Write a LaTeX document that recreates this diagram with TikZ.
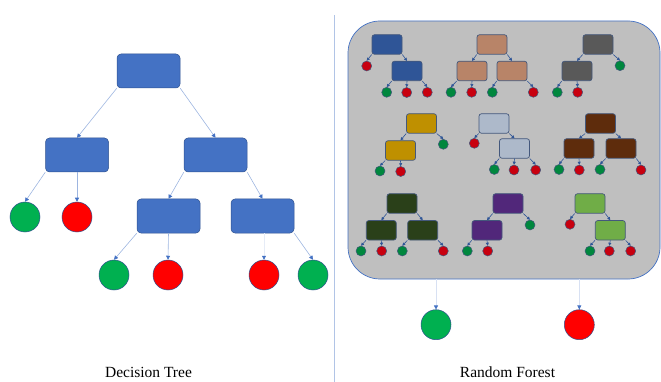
\documentclass[tikz,border=0pt]{standalone}
\usepackage{fontspec}
\setmainfont{Liberation Serif}
\usetikzlibrary{arrows.meta, positioning}
\definecolor{dtblue}{HTML}{4472C4}
\definecolor{dtline}{HTML}{2F528F}
\definecolor{dtedge}{HTML}{9DB5E0}
\definecolor{dtgreen}{HTML}{00B050}
\definecolor{dtred}{HTML}{FF0000}
\definecolor{rfgray}{HTML}{BFBFBF}
\definecolor{sline}{HTML}{44587C}
\definecolor{sgreen}{HTML}{00873E}
\definecolor{sred}{HTML}{C8000F}
\definecolor{tone}{HTML}{2F5597}
\definecolor{ttwo}{HTML}{B88468}
\definecolor{tthree}{HTML}{595959}
\definecolor{tfour}{HTML}{BF9000}
\definecolor{tfive}{HTML}{ADB9CA}
\definecolor{tsix}{HTML}{5E2C0C}
\definecolor{tseven}{HTML}{2A4019}
\definecolor{teight}{HTML}{51277A}
\definecolor{tnine}{HTML}{70AD47}

\begin{document}
\begin{tikzpicture}[x=1pt,y=-1pt,
    dtbox/.style={draw=dtline, line width=0.5pt, fill=dtblue, rounded corners=4pt,
      minimum width=63pt, minimum height=34pt, inner sep=0pt},
    dtleaf/.style={circle, draw=dtline, line width=0.5pt, minimum size=30pt, inner sep=0pt},
    dtarrow/.style={draw=dtedge, line width=0.6pt, -{Triangle[length=4pt,width=4pt,color=dtblue]}},
    sbox/.style={draw=sline, line width=0.7pt, rounded corners=2.5pt,
      minimum width=30pt, minimum height=19.5pt, inner sep=0pt},
    sg/.style={circle, draw=sline, line width=0.5pt, fill=sgreen, minimum size=10pt, inner sep=0pt},
    sr/.style={circle, draw=sline, line width=0.5pt, fill=sred, minimum size=10pt, inner sep=0pt},
    sarrow/.style={draw=tone, line width=0.6pt, -{Triangle[length=3pt,width=3pt]}},
    caption/.style={font=\fontsize{15.5}{18}\selectfont, anchor=base}]
  \useasboundingbox (0,0) rectangle (661,382);

  % decision tree
  \node[dtbox] (root) at (148.5,71) {};
  \node[dtbox] (n1) at (77,155) {};
  \node[dtbox] (n2) at (215.5,155) {};
  \node[dtleaf, fill=dtgreen] (lg1) at (25,217) {};
  \node[dtleaf, fill=dtred] (lr1) at (77,217) {};
  \node[dtbox] (n3) at (168.5,216) {};
  \node[dtbox] (n4) at (262.5,216) {};
  \node[dtleaf, fill=dtgreen] (lg2) at (114,275) {};
  \node[dtleaf, fill=dtred] (lr2) at (168,275) {};
  \node[dtleaf, fill=dtred] (lr3) at (264,275) {};
  \node[dtleaf, fill=dtgreen] (lg3) at (313,275) {};
  \foreach \p/\c in {root.south west/n1, root.south east/n2, n1.south west/lg1,
      n1.south/lr1, n2.south west/n3, n2.south east/n4, n3.south west/lg2,
      n3.south/lr2, n4.south east/lg3}
    \draw[dtarrow] (\p) -- (\c.north);
  \draw[dtarrow, draw=dtedge!25] (n4.south -| lr3) -- (lr3.north);

  % divider
  \draw[draw=dtedge!80, line width=0.7pt] (334.3,15) -- (334.3,382);

  % random forest
  \node[draw=dtblue, line width=0.7pt, fill=rfgray, rounded corners=32pt,
    minimum width=312pt, minimum height=258pt] (rf) at (504,150) {};

  % tree 1
  \node[sbox, fill=tone] (a1) at (387,44.5) {};
  \node[sr] (a1r) at (366.7,66) {};
  \node[sbox, fill=tone] (a2) at (407,71) {};
  \node[sg] (a2g) at (386.7,92.3) {};
  \node[sr] (a2r) at (406.7,92.5) {};
  \node[sr] (a2s) at (427.3,92.3) {};
  % tree 2
  \node[sbox, fill=ttwo] (b1) at (492,44.5) {};
  \node[sbox, fill=ttwo] (b2) at (472,71) {};
  \node[sbox, fill=ttwo] (b3) at (512,71) {};
  \node[sg] (b2g) at (451,92.3) {};
  \node[sr] (b2r) at (471.7,92.3) {};
  \node[sg] (b3g) at (492.3,92.3) {};
  \node[sr] (b3r) at (533.3,92.3) {};
  % tree 3
  \node[sbox, fill=tthree] (c1) at (598,44.5) {};
  \node[sg] (c1g) at (620,65.7) {};
  \node[sbox, fill=tthree] (c2) at (577,71) {};
  \node[sg] (c2g) at (557.3,92.3) {};
  \node[sr] (c2r) at (577.7,92.3) {};
  % tree 4
  \node[sbox, fill=tfour] (d1) at (421.5,123.5) {};
  \node[sg] (d1g) at (443.3,144.3) {};
  \node[sbox, fill=tfour] (d2) at (400.5,150.5) {};
  \node[sg] (d2g) at (380,171) {};
  \node[sr] (d2r) at (400.7,171.5) {};
  % tree 5
  \node[sbox, fill=tfive] (e1) at (494,123.5) {};
  \node[sr] (e1r) at (474.3,143.3) {};
  \node[sbox, fill=tfive] (e2) at (514.5,148.5) {};
  \node[sg] (e2g) at (494.3,169.5) {};
  \node[sr] (e2r) at (514,170) {};
  \node[sr] (e2s) at (535.7,170) {};
  % tree 6
  \node[sbox, fill=tsix] (f1) at (600.5,123.5) {};
  \node[sbox, fill=tsix] (f2) at (579,148.5) {};
  \node[sbox, fill=tsix] (f3) at (621,148.5) {};
  \node[sg] (f2g) at (559,169.5) {};
  \node[sr] (f2r) at (579.3,170) {};
  \node[sg] (f3g) at (600,169.5) {};
  \node[sr] (f3r) at (641,170) {};
  % tree 7
  \node[sbox, fill=tseven] (g1) at (402,203.5) {};
  \node[sbox, fill=tseven] (g2) at (381.3,230.3) {};
  \node[sbox, fill=tseven] (g3) at (422.7,230.3) {};
  \node[sg] (g2g) at (361,251) {};
  \node[sr] (g2r) at (381.7,251) {};
  \node[sg] (g3g) at (402.3,251) {};
  \node[sr] (g3r) at (443.3,251) {};
  % tree 8
  \node[sbox, fill=teight] (h1) at (508,203.5) {};
  \node[sg] (h1g) at (530,225) {};
  \node[sbox, fill=teight] (h2) at (487,230.3) {};
  \node[sg] (h2g) at (467.3,251) {};
  \node[sr] (h2r) at (487.7,251) {};
  % tree 9
  \node[sbox, fill=tnine] (k1) at (590,203.5) {};
  \node[sr] (k1r) at (570,224.3) {};
  \node[sbox, fill=tnine] (k2) at (610.3,230.3) {};
  \node[sg] (k2g) at (590,251) {};
  \node[sr] (k2r) at (609.3,251) {};
  \node[sr] (k2s) at (630.7,251) {};

  \foreach \p/\c in {a1.south west/a1r, a1.south east/a2, a2.south west/a2g, a2.south/a2r, a2.south east/a2s,
      b1.south west/b2, b1.south east/b3, b2.south west/b2g, b2.south/b2r, b3.south west/b3g, b3.south east/b3r,
      c1.south west/c2, c1.south east/c1g, c2.south west/c2g, c2.south/c2r,
      d1.south west/d2, d1.south east/d1g, d2.south west/d2g, d2.south/d2r,
      e1.south west/e1r, e1.south east/e2, e2.south west/e2g, e2.south/e2r, e2.south east/e2s,
      f1.south west/f2, f1.south east/f3, f2.south west/f2g, f2.south/f2r, f3.south west/f3g, f3.south east/f3r,
      g1.south west/g2, g1.south east/g3, g2.south west/g2g, g2.south/g2r, g3.south west/g3g, g3.south east/g3r,
      h1.south west/h2, h1.south east/h1g, h2.south west/h2g, h2.south/h2r,
      k1.south west/k1r, k1.south east/k2, k2.south west/k2g, k2.south/k2r, k2.south east/k2s}
    \draw[sarrow] (\p) -- (\c.north);

  % forest vote
  \node[dtleaf, fill=dtgreen] (rg) at (436,324.7) {};
  \node[dtleaf, fill=dtred] (rr) at (579.3,324.7) {};
  \draw[dtarrow, draw=dtedge!40] (rf.south -| rg) -- (rg.north);
  \draw[dtarrow, draw=dtedge!40] (rf.south -| rr) -- (rr.north);

  % captions
  \node[caption] (dtcap) at (148.5,377.5) {Decision Tree};
  \node[caption] (rfcap) at (507.5,377.5) {Random Forest};
\end{tikzpicture}
\end{document}
